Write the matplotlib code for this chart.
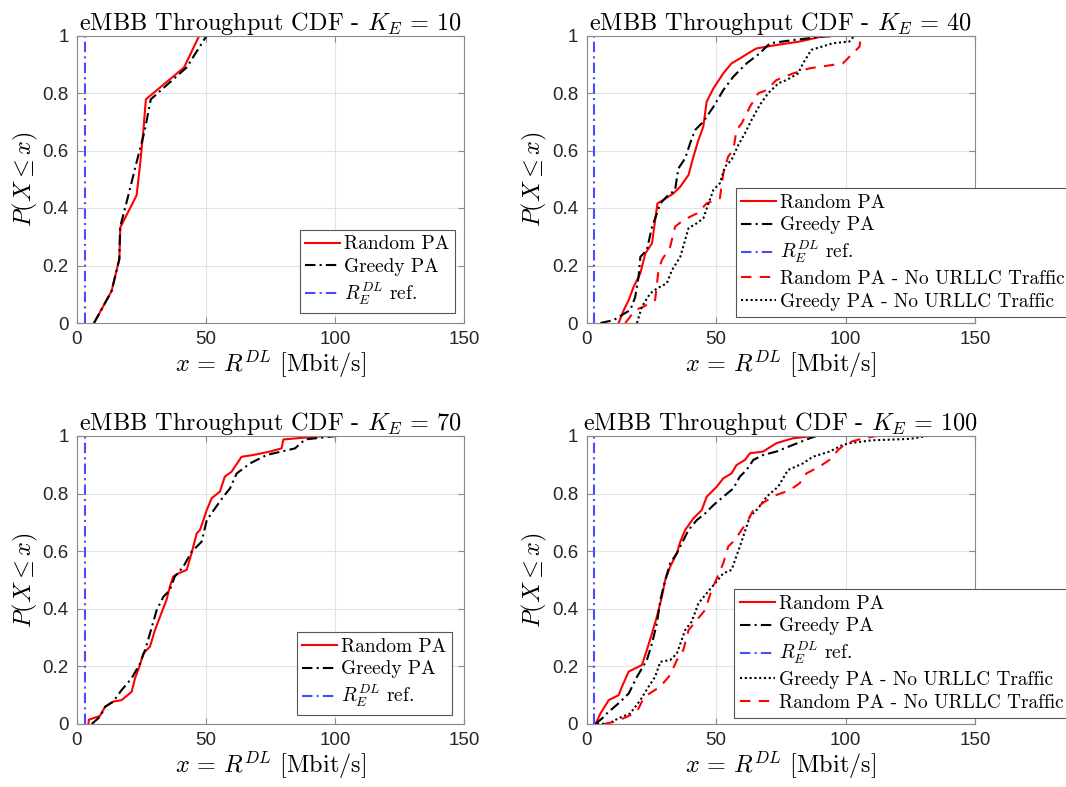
import matplotlib
matplotlib.use("Agg")
import matplotlib.pyplot as plt
from matplotlib.ticker import FuncFormatter, FixedLocator

plt.rcParams['font.family'] = ['Liberation Sans', 'DejaVu Sans']
plt.rcParams['mathtext.fontset'] = 'cm'
plt.rcParams['axes.formatter.use_mathtext'] = False

SERIF = 'cmr10'

# ---------------- data ----------------
ref_rate = 3.0  # R_E^DL reference [Mbit/s]

# K_E = 10
k10_random_x = [6.6, 13.4, 16.4, 16.8, 23.1, 24.5, 25.7, 26.7, 41.5, 47.4]
k10_random_p = [0.0, 0.111, 0.222, 0.333, 0.444, 0.556, 0.667, 0.778, 0.889, 1.0]
k10_greedy_x = [6.6, 13.4, 16.4, 16.7, 19.9, 23.0, 26.2, 28.6, 42.5, 50.3]
k10_greedy_p = [0.0, 0.111, 0.222, 0.333, 0.444, 0.556, 0.667, 0.778, 0.889, 1.0]

# K_E = 40
k40_random_x = [12.4, 14.4, 16.3, 18.2, 20.8, 22.7, 25.3, 26.5, 27.4, 29.7, 33.6, 36.2, 39.4,
                41.3, 43.2, 45.1, 46.4, 49.0, 52.8, 56.0, 59.2, 62.4, 65.6, 73.3, 82.3, 92.6]
k40_random_p = [0.0, 0.045, 0.08, 0.126, 0.173, 0.242, 0.277, 0.358, 0.416, 0.428, 0.451, 0.474, 0.515,
                0.579, 0.636, 0.683, 0.77, 0.816, 0.868, 0.903, 0.92, 0.938, 0.955, 0.967, 0.979, 1.0]
k40_greedy_x = [5.4, 10.5, 13.7, 16.9, 18.8, 20.1, 20.8, 23.3, 25.3, 27.2, 28.5, 31.0, 34.2, 35.5,
                38.1, 40.0, 41.9, 45.1, 49.0, 52.8, 56.7, 61.8, 66.9, 70.8, 79.7, 91.3, 100.3]
k40_greedy_p = [0.0, 0.01, 0.028, 0.045, 0.09, 0.16, 0.23, 0.254, 0.335, 0.381, 0.416, 0.44, 0.463, 0.538,
                0.573, 0.625, 0.671, 0.70, 0.752, 0.81, 0.857, 0.903, 0.938, 0.973, 0.984, 0.996, 1.0]
k40_random_nourllc_x = [15.0, 18.8, 22.1, 24.0, 26.5, 27.8, 29.1, 32.3, 34.2, 37.4, 42.6, 46.4, 51.5,
                        52.8, 54.7, 56.7, 57.9, 59.9, 63.1, 66.3, 69.5, 73.3, 79.7, 86.2, 99.0, 102.8,
                        105.4, 106.0]
k40_random_nourllc_p = [0.0, 0.045, 0.057, 0.068, 0.08, 0.184, 0.219, 0.265, 0.335, 0.358, 0.381, 0.416,
                        0.434, 0.52, 0.579, 0.602, 0.671, 0.694, 0.752, 0.799, 0.81, 0.845, 0.868, 0.886,
                        0.903, 0.938, 0.961, 1.0]
k40_greedy_nourllc_x = [19.5, 21.4, 24.6, 27.2, 31.0, 33.0, 36.2, 39.4, 42.6, 45.1, 47.1, 49.0, 51.5,
                        53.5, 56.0, 58.6, 61.2, 63.7, 66.9, 70.1, 74.1, 77.2, 81.7, 83.6, 86.8, 95.1,
                        101.5, 103.5]
k40_greedy_nourllc_p = [0.0, 0.057, 0.103, 0.12, 0.138, 0.184, 0.23, 0.33, 0.347, 0.364, 0.416, 0.463,
                        0.486, 0.544, 0.567, 0.619, 0.66, 0.706, 0.758, 0.799, 0.834, 0.845, 0.868,
                        0.903, 0.95, 0.973, 0.979, 1.0]

# K_E = 70
k70_random_x = [4.4, 4.6, 8.9, 10.9, 14.1, 17.3, 21.2, 22.5, 24.4, 25.7, 28.3, 30.2, 32.2, 34.7, 36.0,
                37.3, 39.3, 42.5, 44.4, 46.4, 47.7, 50.3, 52.2, 55.4, 57.3, 59.9, 63.8, 68.3, 74.8,
                79.3, 80.0, 89.0, 96.8]
k70_random_p = [0.0, 0.015, 0.028, 0.06, 0.078, 0.083, 0.112, 0.159, 0.205, 0.245, 0.269, 0.326, 0.373,
                0.431, 0.477, 0.512, 0.523, 0.535, 0.593, 0.662, 0.674, 0.743, 0.784, 0.807, 0.859,
                0.876, 0.928, 0.934, 0.946, 0.957, 0.988, 0.995, 1.0]
k70_greedy_x = [5.7, 8.9, 10.9, 14.1, 17.3, 21.2, 24.4, 26.4, 28.3, 30.9, 33.5, 36.0, 37.9, 41.2, 44.4,
                48.3, 50.3, 53.5, 56.7, 59.3, 61.9, 67.1, 73.5, 84.5, 88.4, 100.6]
k70_greedy_p = [0.0, 0.025, 0.06, 0.078, 0.118, 0.159, 0.21, 0.257, 0.315, 0.396, 0.442, 0.465, 0.512,
                0.546, 0.598, 0.633, 0.708, 0.749, 0.789, 0.818, 0.87, 0.905, 0.934, 0.957, 0.988, 1.0]

# K_E = 100
k100_random_x = [3.5, 5.4, 8.6, 12.4, 13.7, 16.3, 21.4, 23.3, 25.3, 27.2, 29.1, 30.4, 32.3, 34.9, 36.2,
                 38.1, 41.3, 44.5, 46.4, 50.3, 52.8, 56.0, 57.9, 61.2, 63.1, 68.2, 73.3, 79.7, 87.4]
k100_random_p = [0.0, 0.037, 0.083, 0.1, 0.13, 0.182, 0.205, 0.257, 0.315, 0.373, 0.442, 0.5, 0.546,
                 0.593, 0.633, 0.674, 0.714, 0.743, 0.789, 0.824, 0.853, 0.870, 0.899, 0.917, 0.94,
                 0.946, 0.975, 0.992, 1.0]
k100_greedy_x = [3.5, 6.7, 7.9, 12.4, 16.3, 19.5, 23.3, 25.3, 27.2, 28.5, 30.4, 32.3, 34.9, 36.8, 39.4,
                 42.6, 45.8, 49.0, 52.8, 56.7, 59.2, 61.8, 64.4, 68.2, 73.3, 79.7, 86.2, 88.7]
k100_greedy_p = [0.0, 0.025, 0.037, 0.072, 0.106, 0.164, 0.222, 0.28, 0.35, 0.43, 0.5, 0.558, 0.593,
                 0.627, 0.674, 0.708, 0.731, 0.76, 0.789, 0.818, 0.859, 0.882, 0.917, 0.934, 0.946,
                 0.969, 0.992, 1.0]
k100_greedy_nourllc_x = [4.1, 8.6, 12.4, 16.9, 20.8, 24.0, 26.5, 28.5, 32.3, 34.9, 38.1, 40.6, 43.2,
                         46.4, 49.6, 52.8, 56.0, 59.2, 63.1, 66.3, 69.5, 74.0, 77.8, 83.6, 87.4, 93.8,
                         99.0, 101.5, 110.0, 125.0, 131.5]
k100_greedy_nourllc_p = [0.0, 0.002, 0.02, 0.037, 0.083, 0.13, 0.164, 0.216, 0.222, 0.245, 0.326, 0.355,
                         0.419, 0.454, 0.488, 0.523, 0.535, 0.616, 0.72, 0.749, 0.789, 0.824, 0.882,
                         0.905, 0.928, 0.946, 0.969, 0.975, 0.985, 0.99, 1.0]
k100_random_nourllc_x = [6.7, 11.2, 15.6, 19.5, 21.4, 23.3, 28.5, 32.3, 34.9, 37.4, 39.4, 42.6, 45.8,
                         48.3, 50.3, 52.8, 54.7, 57.3, 59.9, 62.4, 64.4, 68.8, 73.3, 78.5, 82.3, 84.9,
                         90.0, 93.8, 97.1, 100.3, 106.0, 112.0]
k100_random_nourllc_p = [0.0, 0.008, 0.025, 0.043, 0.078, 0.1, 0.13, 0.17, 0.222, 0.257, 0.326, 0.361,
                         0.396, 0.465, 0.506, 0.558, 0.616, 0.639, 0.674, 0.708, 0.743, 0.772, 0.795,
                         0.812, 0.836, 0.87, 0.894, 0.917, 0.951, 0.975, 0.99, 1.0]

x_ticks = [0, 50, 100, 150]
y_ticks = [0, 0.2, 0.4, 0.6, 0.8, 1.0]

# ---------------- styles ----------------
RED = '#ff0000'
BLACK = '#000000'
BLUE = '#4a4aff'
LW = 1.5
st_random = dict(color=RED, linestyle='-', linewidth=LW)
st_greedy = dict(color=BLACK, linestyle=(0, (5, 2, 1, 2)), linewidth=LW)
st_ref = dict(color=BLUE, linestyle=(0, (5, 2, 1, 2)), linewidth=LW)
st_random_nu = dict(color=RED, linestyle=(0, (5, 4)), linewidth=LW)
st_greedy_nu = dict(color=BLACK, linestyle=(0, (1, 1.3)), linewidth=LW)

FS = 17.5
LEG_FS = 13.9
W, H = 1066, 787
fig = plt.figure(figsize=(W / 100, H / 100), dpi=100)


def make_ax(left, right, top, bottom):
    return fig.add_axes([left / W, 1 - bottom / H, (right - left) / W, (bottom - top) / H])


def style_ax(ax, k):
    ax.set_xlim(0, 150)
    ax.set_ylim(0, 1)
    ax.xaxis.set_major_locator(FixedLocator(x_ticks))
    ax.yaxis.set_major_locator(FixedLocator(y_ticks))
    ax.yaxis.set_major_formatter(FuncFormatter(lambda v, p: f'{v:g}'))
    ax.grid(True, color='#e3e3e3', linewidth=0.8)
    ax.set_axisbelow(True)
    for s in ax.spines.values():
        s.set_color('#8a8a8a')
        s.set_linewidth(0.8)
    ax.tick_params(direction='in', length=4, width=0.8, color='#8a8a8a',
                   top=True, right=True, labelsize=13.5, labelcolor='#262626', pad=6)
    ax.set_title(r'eMBB Throughput CDF - $K_E \,=\, %d$' % k, fontfamily=SERIF, fontsize=FS, pad=4)
    ax.set_xlabel(r'$x \,=\, R^{DL}$ [Mbit/s]', fontfamily=SERIF, fontsize=FS, labelpad=0)
    ax.set_ylabel(r'$P(X \leq x)$', fontfamily=SERIF, fontsize=FS, labelpad=2)


def ref_line(ax):
    ax.axvline(ref_rate, **st_ref, label=r'$R_E^{DL}$ ref.')


leg_kw = dict(prop={'family': SERIF, 'size': LEG_FS}, frameon=True, fancybox=False,
              edgecolor='#555555', framealpha=1, borderaxespad=0, handlelength=1.8,
              handletextpad=0.2, labelspacing=0.25, borderpad=0.3)

# K_E = 10
ax1 = make_ax(77, 464, 35.5, 323)
ax1.plot(k10_random_x, k10_random_p, **st_random, label='Random PA')
ax1.plot(k10_greedy_x, k10_greedy_p, **st_greedy, label='Greedy PA')
ref_line(ax1)
style_ax(ax1, 10)
l = ax1.legend(loc='lower right', bbox_to_anchor=(0.977, 0.035), **leg_kw)
l.get_frame().set_linewidth(0.8)

# K_E = 40
ax2 = make_ax(586.5, 975, 35.5, 323)
ax2.plot(k40_random_x, k40_random_p, **st_random, label='Random PA')
ax2.plot(k40_greedy_x, k40_greedy_p, **st_greedy, label='Greedy PA')
ref_line(ax2)
ax2.plot(k40_random_nourllc_x, k40_random_nourllc_p, **st_random_nu, label='Random PA - No URLLC Traffic')
ax2.plot(k40_greedy_nourllc_x, k40_greedy_nourllc_p, **st_greedy_nu, label='Greedy PA - No URLLC Traffic')
style_ax(ax2, 40)
l = ax2.legend(loc='upper left', bbox_to_anchor=(0.384, 0.47), **leg_kw)
l.get_frame().set_linewidth(0.8)

# K_E = 70
ax3 = make_ax(77, 464, 436, 724)
ax3.plot(k70_random_x, k70_random_p, **st_random, label='Random PA')
ax3.plot(k70_greedy_x, k70_greedy_p, **st_greedy, label='Greedy PA')
ref_line(ax3)
style_ax(ax3, 70)
l = ax3.legend(loc='lower right', bbox_to_anchor=(0.969, 0.031), **leg_kw)
l.get_frame().set_linewidth(0.8)

# K_E = 100
ax4 = make_ax(586.5, 975, 436, 724)
ax4.plot(k100_random_x, k100_random_p, **st_random, label='Random PA')
ax4.plot(k100_greedy_x, k100_greedy_p, **st_greedy, label='Greedy PA')
ref_line(ax4)
ax4.plot(k100_greedy_nourllc_x, k100_greedy_nourllc_p, **st_greedy_nu, label='Greedy PA - No URLLC Traffic')
ax4.plot(k100_random_nourllc_x, k100_random_nourllc_p, **st_random_nu, label='Random PA - No URLLC Traffic')
style_ax(ax4, 100)
l = ax4.legend(loc='upper left', bbox_to_anchor=(0.38, 0.469), **leg_kw)
l.get_frame().set_linewidth(0.8)

fig.savefig('out.png', dpi=100)
